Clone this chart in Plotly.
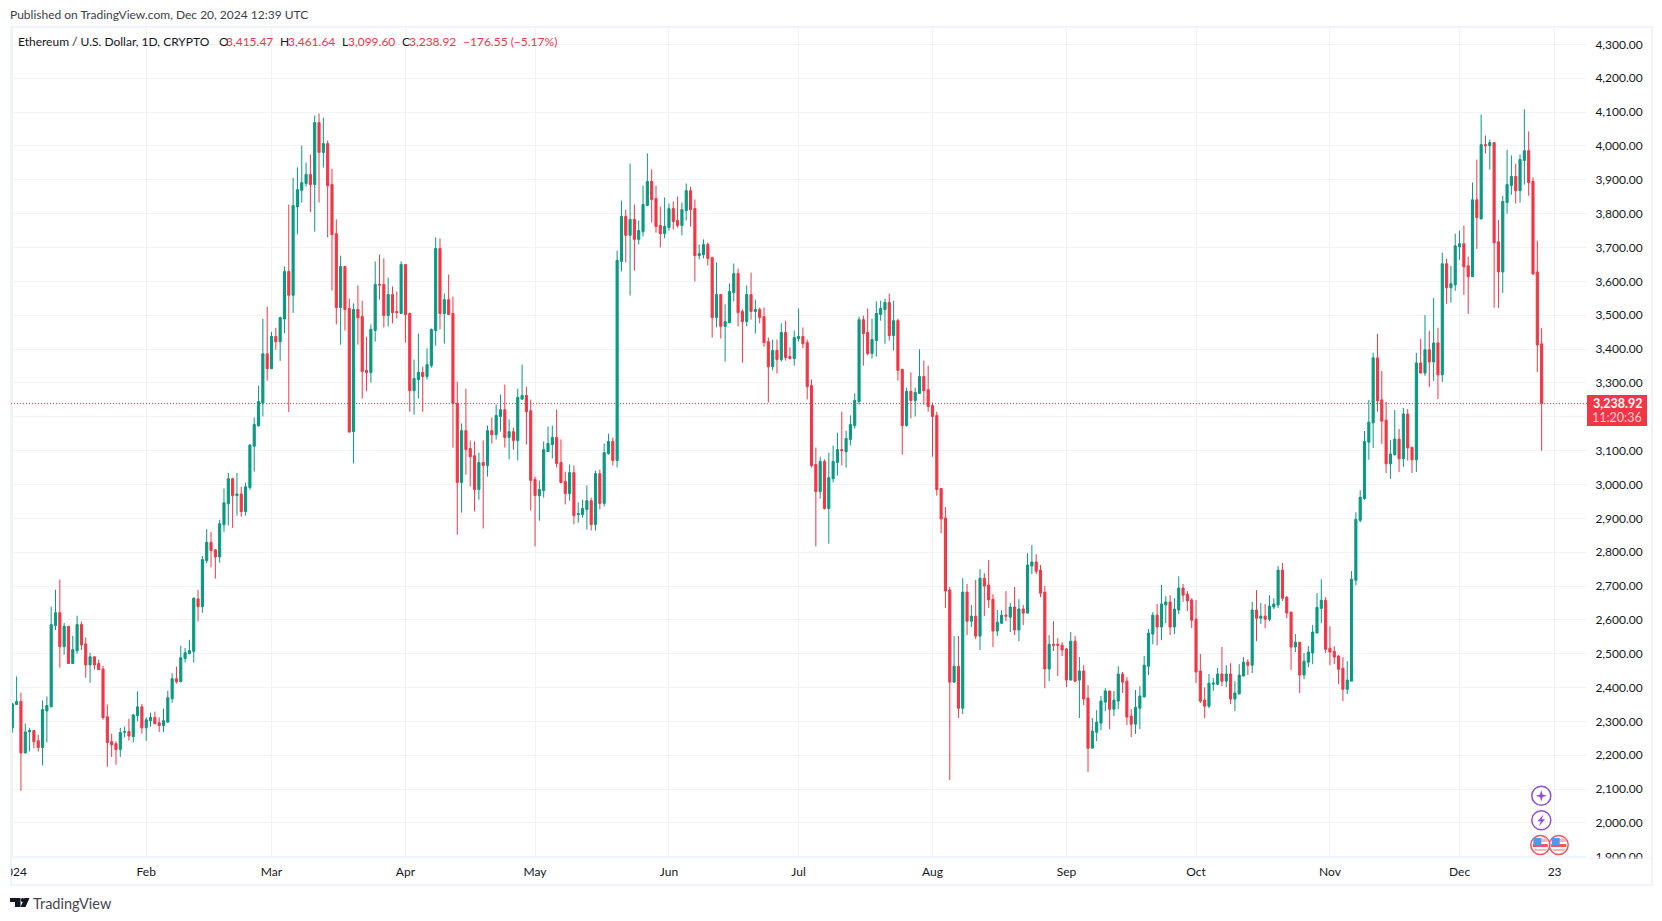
import pandas as pd
import plotly.graph_objects as go

# ---------- data ----------
opens = [
2281,2350,2359,2207,2269,2273,2243,2223,2331,2343,
2583,2621,2521,2581,2471,2509,2586,2529,2467,2491,
2471,2455,2314,2240,2234,2217,2268,2270,2255,2317,
2343,2281,2302,2312,2296,2288,2298,2367,2426,2417,
2486,2500,2507,2662,2639,2775,2829,2807,2786,2881,
2943,3017,2967,2972,2920,2991,3113,3173,3240,3386,
3342,3437,3422,3489,3629,3559,3820,3869,3889,3916,
3886,4069,3981,4007,3886,3741,3523,3644,3520,3156,
3517,3496,3337,3331,3455,3591,3591,3499,3561,3511,
3505,3650,3505,3277,3310,3331,3319,3351,3455,3697,
3505,3546,3505,3239,3006,3159,3106,3085,2985,3065,
3056,3159,3147,3201,3221,3139,3156,3130,3252,3263,
3218,3015,2967,2982,3097,3118,3139,3065,3009,2973,
3035,2911,2911,2926,2952,2882,3032,2944,3091,3127,
3071,3659,3792,3736,3783,3724,3747,3824,3895,3845,
3765,3741,3759,3815,3780,3765,3809,3868,3815,3676,
3679,3709,3670,3493,3561,3467,3478,3567,3623,3511,
3481,3561,3511,3517,3496,3422,3348,3396,3369,3449,
3378,3372,3431,3437,3419,3292,3059,2979,3068,2929,
3017,3065,3103,3097,3133,3174,3245,3487,3449,3387,
3425,3502,3517,3538,3440,3484,3340,3174,3275,3248,
3269,3319,3280,3233,3204,2988,2901,2688,2416,2463,
2339,2682,2596,2611,2552,2723,2703,2661,2567,2590,
2614,2608,2638,2570,2632,2620,2759,2771,2747,2682,
2455,2528,2528,2525,2514,2422,2537,2422,2449,2369,
2221,2268,2295,2357,2390,2336,2360,2440,2419,2316,
2292,2339,2372,2463,2558,2614,2579,2644,2653,2579,
2629,2694,2676,2659,2602,2449,2363,2345,2410,2410,
2440,2419,2440,2366,2381,2434,2475,2466,2629,2605,
2611,2602,2638,2644,2747,2667,2623,2520,2534,2437,
2475,2502,2561,2634,2658,2516,2507,2493,2457,2395,
2419,2717,2894,2958,3125,3182,3374,3250,3190,3061,
3088,3134,3076,3208,3110,3073,3359,3329,3398,3362,
3418,3324,3652,3581,3590,3702,3711,3646,3614,3841,
3785,4004,4001,4010,3717,3628,3833,3883,3910,3868,
3957,3986,3895,3628,3415.47]

closes = [
2352,2359,2207,2269,2273,2240,2223,2335,2347,2586,
2621,2521,2581,2471,2512,2586,2526,2467,2491,2467,
2453,2311,2238,2231,2217,2267,2270,2257,2319,2343,
2281,2305,2312,2293,2288,2302,2370,2426,2417,2488,
2503,2509,2664,2639,2778,2829,2805,2786,2884,2946,
3017,2967,2972,2920,2993,3116,3177,3245,3386,3342,
3437,3422,3493,3629,3559,3824,3871,3892,3916,3886,
4069,3981,4007,3883,3738,3523,3644,3517,3155,3517,
3493,3334,3331,3458,3591,3589,3499,3561,3508,3508,
3650,3502,3277,3313,3331,3319,3354,3458,3697,3505,
3546,3502,3239,3006,3159,3103,3082,2985,3065,3056,
3159,3147,3204,3221,3139,3156,3130,3257,3263,3215,
3012,2967,2985,3103,3121,3139,3062,3006,2973,3035,
2908,2914,2929,2952,2882,3032,2944,3094,3127,3071,
3662,3792,3736,3783,3724,3750,3827,3895,3842,3762,
3741,3762,3815,3777,3765,3812,3868,3812,3676,3682,
3709,3668,3493,3561,3467,3481,3570,3623,3508,3481,
3561,3511,3517,3493,3419,3348,3396,3369,3449,3375,
3372,3434,3437,3416,3289,3056,2979,3068,2929,3020,
3068,3103,3100,3136,3177,3248,3487,3446,3387,3428,
3505,3520,3538,3440,3484,3337,3174,3275,3248,3272,
3319,3277,3230,3201,2985,2898,2685,2416,2463,2339,
2682,2596,2611,2552,2723,2700,2659,2567,2593,2614,
2611,2638,2570,2632,2620,2762,2771,2744,2679,2455,
2528,2525,2525,2511,2422,2537,2419,2449,2366,2221,
2271,2298,2360,2390,2336,2363,2440,2416,2313,2292,
2342,2375,2466,2561,2614,2579,2647,2653,2579,2632,
2694,2673,2656,2599,2446,2360,2345,2413,2413,2440,
2419,2440,2366,2384,2437,2475,2466,2629,2605,2611,
2602,2641,2647,2747,2664,2620,2520,2534,2437,2478,
2505,2564,2637,2658,2513,2505,2490,2454,2395,2422,
2720,2897,2962,3127,3184,3374,3247,3187,3061,3090,
3134,3076,3208,3108,3073,3359,3329,3398,3362,3418,
3324,3652,3581,3593,3705,3711,3643,3614,3841,3788,
4004,4001,4010,3714,3628,3836,3886,3910,3868,3960,
3986,3892,3622,3412,3238.92]

highs = [
2355,2433,2385,2294,2281,2274,2261,2362,2374,2639,
2689,2719,2591,2581,2553,2612,2595,2548,2503,2491,
2483,2464,2350,2264,2241,2281,2285,2308,2322,2389,
2352,2312,2326,2329,2312,2338,2391,2442,2462,2524,
2517,2541,2666,2689,2789,2868,2860,2807,2896,2988,
3034,3020,3034,2993,3005,3120,3198,3292,3489,3525,
3451,3463,3496,3644,3827,3906,3937,4001,3951,3975,
4090,4096,4084,4016,3933,3783,3676,3644,3549,3535,
3588,3543,3437,3473,3659,3679,3668,3611,3585,3570,
3659,3650,3508,3369,3446,3348,3402,3461,3730,3727,
3564,3620,3555,3304,3180,3283,3130,3127,3094,3130,
3174,3198,3236,3266,3295,3192,3168,3283,3354,3289,
3251,3023,3012,3127,3171,3174,3221,3133,3038,3059,
3056,2947,2955,2997,2961,3041,3044,3121,3150,3139,
3691,3839,3812,3948,3827,3780,3883,3978,3931,3883,
3821,3848,3830,3836,3851,3833,3889,3880,3842,3709,
3724,3715,3673,3656,3561,3532,3594,3653,3638,3517,
3588,3626,3546,3523,3523,3434,3428,3428,3476,3484,
3405,3455,3520,3464,3428,3310,3109,3082,3074,3094,
3115,3153,3215,3159,3204,3269,3496,3499,3520,3490,
3541,3543,3549,3564,3543,3490,3342,3286,3331,3286,
3399,3366,3351,3242,3215,2990,2933,2697,2552,2552,
2723,2706,2644,2718,2750,2738,2777,2676,2629,2629,
2685,2650,2697,2661,2644,2797,2821,2794,2762,2700,
2555,2596,2546,2534,2517,2564,2552,2490,2466,2407,
2310,2333,2375,2398,2390,2390,2463,2446,2431,2336,
2393,2404,2493,2573,2623,2647,2703,2670,2673,2664,
2729,2706,2685,2664,2659,2499,2401,2440,2428,2458,
2520,2466,2472,2419,2469,2490,2484,2653,2688,2650,
2647,2673,2664,2759,2768,2670,2623,2558,2534,2502,
2523,2585,2679,2720,2667,2581,2522,2496,2490,2478,
2744,2918,2983,3158,3250,3389,3445,3335,3244,3131,
3220,3164,3226,3223,3110,3389,3430,3501,3454,3551,
3463,3685,3667,3646,3741,3750,3765,3673,3892,3960,
4093,4031,4019,4010,3782,3853,3989,3972,3948,3975,
4108,4043,3907,3720,3461.64]

lows = [
2267,2348,2095,2205,2211,2220,2211,2170,2238,2343,
2570,2459,2497,2471,2471,2500,2511,2429,2414,2453,
2453,2305,2166,2195,2172,2195,2253,2243,2238,2300,
2264,2243,2285,2293,2269,2269,2296,2355,2412,2417,
2474,2500,2474,2595,2621,2767,2755,2722,2769,2860,
2879,2872,2908,2905,2908,2984,3038,3172,3201,3307,
3342,3398,3365,3447,3214,3507,3739,3833,3880,3804,
3747,3833,3936,3730,3573,3473,3413,3455,3153,3062,
3413,3254,3275,3301,3422,3546,3464,3467,3476,3490,
3505,3419,3215,3206,3254,3215,3310,3345,3410,3458,
3416,3502,3109,2852,2917,3029,2994,2920,2955,2870,
3023,3121,3133,3156,3109,3074,3103,3071,3251,3118,
2923,2817,2893,2961,3097,3077,3050,3003,2941,2952,
2882,2887,2902,2867,2864,2864,2926,2935,3088,3056,
3050,3629,3656,3558,3632,3709,3733,3824,3774,3744,
3700,3727,3750,3753,3759,3736,3780,3762,3600,3665,
3668,3647,3434,3464,3431,3363,3476,3541,3467,3360,
3467,3487,3446,3476,3407,3242,3337,3328,3363,3366,
3369,3351,3422,3402,3251,3050,2817,2958,2926,2825,
3006,3026,3056,3050,3115,3165,3236,3351,3381,3372,
3378,3484,3416,3425,3396,3307,3088,3171,3195,3201,
3269,3236,3215,3082,2967,2856,2635,2127,2416,2310,
2322,2555,2579,2543,2511,2611,2635,2520,2552,2588,
2596,2564,2555,2537,2585,2620,2735,2735,2667,2398,
2419,2508,2434,2493,2401,2422,2416,2310,2348,2150,
2221,2242,2274,2330,2277,2316,2336,2384,2289,2254,
2263,2277,2372,2437,2528,2525,2540,2590,2555,2558,
2617,2653,2626,2576,2413,2354,2310,2339,2390,2407,
2404,2401,2351,2330,2381,2434,2437,2443,2537,2588,
2576,2596,2632,2635,2656,2605,2452,2505,2384,2425,
2460,2469,2561,2590,2502,2466,2469,2410,2360,2381,
2419,2702,2888,2955,3073,3108,3215,3120,3034,3017,
3085,3037,3052,3071,3034,3037,3329,3321,3288,3306,
3252,3303,3534,3537,3572,3664,3560,3504,3614,3696,
3782,3978,3930,3522,3522,3566,3800,3856,3830,3833,
3886,3853,3620,3332,3099.60]

first_day = "2024-01-01"
x_tick_dates = ["2024-01-01","2024-02-01","2024-03-01","2024-04-01","2024-05-01","2024-06-01",
                "2024-07-01","2024-08-01","2024-09-01","2024-10-01","2024-11-01","2024-12-01","2024-12-23"]
x_tick_labels = ["","Feb","Mar","Apr","May","Jun","Jul","Aug","Sep","Oct","Nov","Dec","23"]
year_label = "2024"
y_ticks = [1900,2000,2100,2200,2300,2400,2500,2600,2700,2800,2900,3000,3100,3200,3300,3400,
           3500,3600,3700,3800,3900,4000,4100,4200,4300]
y_tick_labels = ["1,900.00","2,000.00","2,100.00","2,200.00","2,300.00","2,400.00","2,500.00","2,600.00",
                 "2,700.00","2,800.00","2,900.00","3,000.00","3,100.00","","3,300.00","3,400.00",
                 "3,500.00","3,600.00","3,700.00","3,800.00","3,900.00","4,000.00","4,100.00","4,200.00","4,300.00"]
last_price = 3238.92

# ---------- layout geometry ----------
W, H = 1662, 921
L, R, T, B = 11, 1587, 27, 858
UP, DOWN = "#089981", "#F23645"
INK, GRID, FRAME = "#131722", "#F2F3F6", "#F0F3FA"
FONT = "Lato"

def px(x): return (x - L) / (R - L)
def py(y): return 1 - (y - T) / (B - T)

dates = pd.date_range(first_day, periods=len(closes), freq="D")
start = pd.Timestamp(first_day)
x_range = [start + pd.Timedelta(days=-0.30), start + pd.Timedelta(days=364.5)]

fig = go.Figure(go.Candlestick(
    x=dates, open=opens, high=highs, low=lows, close=closes,
    increasing=dict(line=dict(color=UP, width=1), fillcolor=UP),
    decreasing=dict(line=dict(color=DOWN, width=1), fillcolor=DOWN),
    whiskerwidth=0, showlegend=False, hoverinfo="skip"))

def rect(x0, y0, x1, y1, fill="rgba(0,0,0,0)", line=None, lw=0):
    return dict(type="rect", xref="paper", yref="paper", layer="above",
                x0=px(x0), x1=px(x1), y0=py(y0), y1=py(y1), fillcolor=fill,
                line=dict(color=line or "rgba(0,0,0,0)", width=lw))

def circle(cx, cy, r, fill, line, lw):
    return dict(type="circle", xref="paper", yref="paper", layer="above",
                x0=px(cx - r), x1=px(cx + r), y0=py(cy - r), y1=py(cy + r),
                fillcolor=fill, line=dict(color=line, width=lw))

def poly(points, fill):
    path = "M " + " L ".join(f"{px(a):.6f},{py(b):.6f}" for a, b in points) + " Z"
    return dict(type="path", xref="paper", yref="paper", layer="above", path=path,
                fillcolor=fill, line=dict(width=0))

PURPLE = "#8F4FE0"
shapes = [
    # clipped 1,900.00 label at the pane edge
    rect(1588, 859, 1651, 866, fill="white"),
    # frame and pane bottom
    rect(11, 27, 1652, 885, line=FRAME, lw=2),
    dict(type="line", xref="paper", yref="paper", layer="above",
         x0=px(11), x1=px(1652), y0=py(858), y1=py(858), line=dict(color=FRAME, width=1)),
    # last price line and tag
    dict(type="line", xref="paper", yref="y", layer="above", x0=0, x1=1,
         y0=last_price, y1=last_price, line=dict(color=DOWN, width=1, dash="1px,2px")),
    rect(1587, 395, 1647, 426, fill=DOWN),
    # event icons
    circle(1541.3, 795.7, 9.5, "white", PURPLE, 1.5),
    poly([(1541.3,790),(1542.6,794.4),(1547,795.7),(1542.6,797),(1541.3,801.4),(1540,797),(1535.6,795.7),(1540,794.4)], PURPLE),
    circle(1541.3, 820.3, 9.5, "white", PURPLE, 1.5),
    poly([(1543.5,814.5),(1537.5,821.3),(1540.8,821.3),(1539,826.2),(1545,819.3),(1541.7,819.3)], PURPLE),
]
for cx in (1558.7, 1540.3):
    shapes += [
        circle(cx, 845, 9.5, "white", "#F7525F", 1.5),
        rect(cx - 6.5, 838.5, cx + 7, 842, fill="#F9B4B9"),
        rect(cx - 7.5, 844, cx + 7.5, 847, fill="#F7525F"),
        rect(cx - 6, 849, cx + 6, 851, fill="#F9B4B9"),
        rect(cx - 7, 838, cx + 1, 845, fill="#4C9BEE"),
    ]
# TradingView logo
shapes += [
    poly([(10,898),(20.5,898),(20.5,907),(15,907),(15,902),(10,902)], INK),
    circle(22.6, 900, 1.9, INK, INK, 0),
    poly([(24.5,898),(29.5,898),(25.5,907),(20.5,907)], INK),
]

def label(x, y, text, color=INK, size=12, anchor="left", bold=False, family=FONT):
    return dict(xref="paper", yref="paper", x=px(x), y=py(y), text=f"<b>{text}</b>" if bold else text,
                showarrow=False, xanchor=anchor, yanchor="middle",
                font=dict(family=family, size=size, color=color),
                borderpad=0, borderwidth=0)

LEG = 12
annotations = [
    label(10, 14.5, "Published on TradingView.com, Dec 20, 2024 12:39 UTC", "#3B3E48", 12),
    label(18, 41.5, "Ethereum / U.S. Dollar, 1D, CRYPTO", size=LEG),
    label(218.5, 41.5, "O", size=LEG), label(226, 41.5, "3,415.47", DOWN, LEG),
    label(280, 41.5, "H", size=LEG), label(288, 41.5, "3,461.64", DOWN, LEG),
    label(342, 41.5, "L", size=LEG), label(348, 41.5, "3,099.60", DOWN, LEG),
    label(402, 41.5, "C", size=LEG), label(409, 41.5, "3,238.92", DOWN, LEG),
    label(463, 41.5, "\u2212176.55 (\u22125.17%)", DOWN, LEG),
    label(1617, 403, "3,238.92", "white", 12.5, "center", True),
    label(1617, 417, "11:20:36", "rgba(255,255,255,0.75)", 12.5, "center"),
    label(33, 903, "TradingView", "#434651", 14.5),
    # the year label is cut by the left edge of the pane, as in the reference
    dict(xref="paper", yref="paper", x=px(11), y=py(871), text=year_label, showarrow=False,
         xanchor="left", yanchor="middle", width=16, height=18, align="right",
         font=dict(family=FONT, size=12, color=INK), borderpad=0, borderwidth=0),
]

fig.update_layout(
    width=W, height=H, autosize=False,
    margin=dict(l=L, r=W - R, t=T, b=H - B, pad=0),
    paper_bgcolor="white", plot_bgcolor="white",
    font=dict(family=FONT, size=12, color=INK),
    boxgap=0.3, showlegend=False, hovermode=False,
    shapes=shapes, annotations=annotations,
    xaxis=dict(type="date", range=x_range, rangeslider=dict(visible=False),
               tickmode="array", tickvals=x_tick_dates, ticktext=x_tick_labels,
               showgrid=True, gridcolor=GRID, gridwidth=1, zeroline=False, showline=False,
               ticks="outside", ticklen=3, tickcolor="rgba(0,0,0,0)",
               tickfont=dict(family=FONT, size=12, color=INK)),
    yaxis=dict(side="right", range=[1896.5, 4351.5], tickmode="array", tickvals=y_ticks,
               ticktext=y_tick_labels,
               showgrid=True, gridcolor=GRID, gridwidth=1,
               zeroline=False, showline=False,
               ticks="outside", ticklen=5, tickcolor="rgba(0,0,0,0)",
               tickfont=dict(family=FONT, size=12, color=INK)),
)

fig.write_html("out.html", config=dict(displayModeBar=False, staticPlot=True),
               post_script="document.body.style.margin='0';document.body.style.overflow='hidden';")
